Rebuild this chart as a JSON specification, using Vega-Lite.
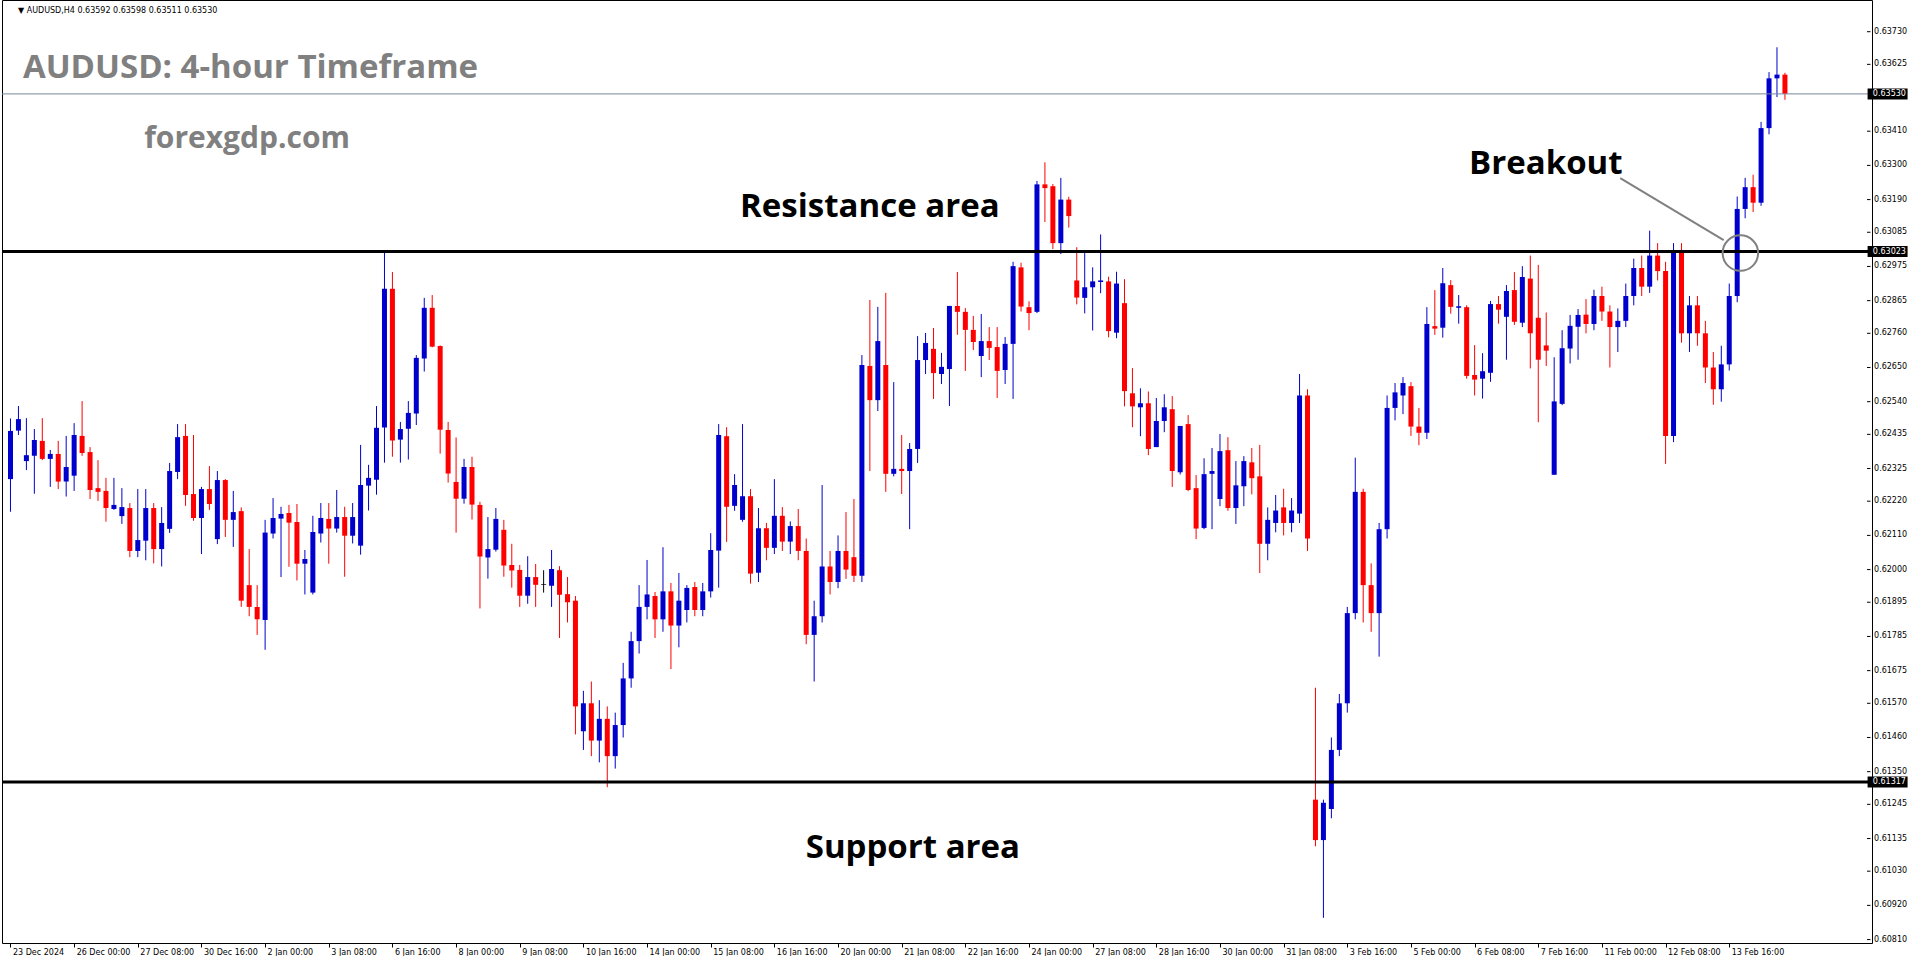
{
  "$schema": "https://vega.github.io/schema/vega-lite/v6.json",
  "width": 1870,
  "height": 943,
  "padding": 0,
  "autosize": {"type": "pad"},
  "background": "white",
  "view": {"stroke": "black", "strokeWidth": 1},
  "config": {"font": "DejaVu Sans", "axis": {"labelFont": "DejaVu Sans"}},
  "datasets": {
    "candles": [
      {"i":0,"o":0.62291,"h":0.62486,"l":0.62186,"c":0.62446},
      {"i":1,"o":0.62447,"h":0.62526,"l":0.62433,"c":0.62484},
      {"i":2,"o":0.62349,"h":0.62487,"l":0.62320,"c":0.62368},
      {"i":3,"o":0.62366,"h":0.62452,"l":0.62244,"c":0.62417},
      {"i":4,"o":0.62414,"h":0.62487,"l":0.62352,"c":0.62356},
      {"i":5,"o":0.62356,"h":0.62385,"l":0.62266,"c":0.62372},
      {"i":6,"o":0.62372,"h":0.62414,"l":0.62259,"c":0.62283},
      {"i":7,"o":0.62283,"h":0.62430,"l":0.62235,"c":0.62330},
      {"i":8,"o":0.62302,"h":0.62471,"l":0.62253,"c":0.62433},
      {"i":9,"o":0.62430,"h":0.62542,"l":0.62366,"c":0.62375},
      {"i":10,"o":0.62378,"h":0.62394,"l":0.62227,"c":0.62256},
      {"i":11,"o":0.62262,"h":0.62352,"l":0.62221,"c":0.62250},
      {"i":12,"o":0.62253,"h":0.62295,"l":0.62154,"c":0.62198},
      {"i":13,"o":0.62195,"h":0.62295,"l":0.62192,"c":0.62208},
      {"i":14,"o":0.62172,"h":0.62262,"l":0.62147,"c":0.62201},
      {"i":15,"o":0.62198,"h":0.62214,"l":0.62040,"c":0.62060},
      {"i":16,"o":0.62060,"h":0.62259,"l":0.62040,"c":0.62095},
      {"i":17,"o":0.62093,"h":0.62259,"l":0.62030,"c":0.62198},
      {"i":18,"o":0.62198,"h":0.62214,"l":0.62020,"c":0.62066},
      {"i":19,"o":0.62066,"h":0.62201,"l":0.62010,"c":0.62150},
      {"i":20,"o":0.62131,"h":0.62343,"l":0.62118,"c":0.62317},
      {"i":21,"o":0.62314,"h":0.62468,"l":0.62291,"c":0.62426},
      {"i":22,"o":0.62430,"h":0.62468,"l":0.62205,"c":0.62240},
      {"i":23,"o":0.62243,"h":0.62433,"l":0.62157,"c":0.62166},
      {"i":24,"o":0.62166,"h":0.62266,"l":0.62050,"c":0.62259},
      {"i":25,"o":0.62259,"h":0.62333,"l":0.62192,"c":0.62211},
      {"i":26,"o":0.62098,"h":0.62317,"l":0.62082,"c":0.62288},
      {"i":27,"o":0.62288,"h":0.62291,"l":0.62105,"c":0.62160},
      {"i":28,"o":0.62160,"h":0.62253,"l":0.62073,"c":0.62185},
      {"i":29,"o":0.62188,"h":0.62200,"l":0.61880,"c":0.61900},
      {"i":30,"o":0.61950,"h":0.62066,"l":0.61850,"c":0.61880},
      {"i":31,"o":0.61880,"h":0.61950,"l":0.61790,"c":0.61840},
      {"i":32,"o":0.61838,"h":0.62160,"l":0.61742,"c":0.62119},
      {"i":33,"o":0.62116,"h":0.62230,"l":0.62100,"c":0.62166},
      {"i":34,"o":0.62164,"h":0.62202,"l":0.61976,"c":0.62179},
      {"i":35,"o":0.62182,"h":0.62208,"l":0.62009,"c":0.62151},
      {"i":36,"o":0.62153,"h":0.62211,"l":0.61965,"c":0.62019},
      {"i":37,"o":0.62019,"h":0.62063,"l":0.61920,"c":0.62034},
      {"i":38,"o":0.61926,"h":0.62173,"l":0.61920,"c":0.62121},
      {"i":39,"o":0.62116,"h":0.62214,"l":0.62087,"c":0.62166},
      {"i":40,"o":0.62163,"h":0.62214,"l":0.62019,"c":0.62132},
      {"i":41,"o":0.62132,"h":0.62256,"l":0.62119,"c":0.62169},
      {"i":42,"o":0.62169,"h":0.62202,"l":0.61977,"c":0.62109},
      {"i":43,"o":0.62109,"h":0.62214,"l":0.62084,"c":0.62169},
      {"i":44,"o":0.62077,"h":0.62401,"l":0.62048,"c":0.62272},
      {"i":45,"o":0.62270,"h":0.62337,"l":0.62190,"c":0.62295},
      {"i":46,"o":0.62289,"h":0.62526,"l":0.62241,"c":0.62456},
      {"i":47,"o":0.62457,"h":0.63020,"l":0.62344,"c":0.62903},
      {"i":48,"o":0.62903,"h":0.62957,"l":0.62363,"c":0.62415},
      {"i":49,"o":0.62418,"h":0.62475,"l":0.62344,"c":0.62452},
      {"i":50,"o":0.62453,"h":0.62542,"l":0.62354,"c":0.62504},
      {"i":51,"o":0.62502,"h":0.62690,"l":0.62465,"c":0.62681},
      {"i":52,"o":0.62679,"h":0.62874,"l":0.62637,"c":0.62842},
      {"i":53,"o":0.62842,"h":0.62883,"l":0.62715,"c":0.62717},
      {"i":54,"o":0.62719,"h":0.62721,"l":0.62373,"c":0.62450},
      {"i":55,"o":0.62449,"h":0.62475,"l":0.62280,"c":0.62309},
      {"i":56,"o":0.62282,"h":0.62425,"l":0.62119,"c":0.62228},
      {"i":57,"o":0.62228,"h":0.62356,"l":0.62212,"c":0.62330},
      {"i":58,"o":0.62330,"h":0.62363,"l":0.62161,"c":0.62209},
      {"i":59,"o":0.62208,"h":0.62218,"l":0.61875,"c":0.62042},
      {"i":60,"o":0.62039,"h":0.62169,"l":0.61971,"c":0.62066},
      {"i":61,"o":0.62064,"h":0.62198,"l":0.62058,"c":0.62163},
      {"i":62,"o":0.62128,"h":0.62160,"l":0.61977,"c":0.62013},
      {"i":63,"o":0.62015,"h":0.62083,"l":0.61942,"c":0.61997},
      {"i":64,"o":0.61999,"h":0.62015,"l":0.61880,"c":0.61916},
      {"i":65,"o":0.61916,"h":0.62043,"l":0.61890,"c":0.61976},
      {"i":66,"o":0.61976,"h":0.62018,"l":0.61880,"c":0.61951},
      {"i":67,"o":0.61952,"h":0.61998,"l":0.61926,"c":0.61952},
      {"i":68,"o":0.61948,"h":0.62063,"l":0.61880,"c":0.62002},
      {"i":69,"o":0.61998,"h":0.62011,"l":0.61780,"c":0.61919},
      {"i":70,"o":0.61921,"h":0.61976,"l":0.61830,"c":0.61895},
      {"i":71,"o":0.61900,"h":0.61915,"l":0.61470,"c":0.61560},
      {"i":72,"o":0.61480,"h":0.61610,"l":0.61420,"c":0.61570},
      {"i":73,"o":0.61570,"h":0.61640,"l":0.61400,"c":0.61450},
      {"i":74,"o":0.61450,"h":0.61580,"l":0.61380,"c":0.61520},
      {"i":75,"o":0.61520,"h":0.61560,"l":0.61300,"c":0.61400},
      {"i":76,"o":0.61400,"h":0.61540,"l":0.61360,"c":0.61500},
      {"i":77,"o":0.61500,"h":0.61700,"l":0.61460,"c":0.61650},
      {"i":78,"o":0.61650,"h":0.61800,"l":0.61620,"c":0.61770},
      {"i":79,"o":0.61770,"h":0.61950,"l":0.61730,"c":0.61880},
      {"i":80,"o":0.61880,"h":0.62031,"l":0.61840,"c":0.61920},
      {"i":81,"o":0.61915,"h":0.61928,"l":0.61780,"c":0.61840},
      {"i":82,"o":0.61840,"h":0.62072,"l":0.61800,"c":0.61930},
      {"i":83,"o":0.61930,"h":0.61957,"l":0.61680,"c":0.61820},
      {"i":84,"o":0.61820,"h":0.61989,"l":0.61750,"c":0.61900},
      {"i":85,"o":0.61870,"h":0.61950,"l":0.61830,"c":0.61941},
      {"i":86,"o":0.61944,"h":0.61960,"l":0.61850,"c":0.61870},
      {"i":87,"o":0.61870,"h":0.61957,"l":0.61850,"c":0.61930},
      {"i":88,"o":0.61930,"h":0.62117,"l":0.61910,"c":0.62063},
      {"i":89,"o":0.62061,"h":0.62468,"l":0.61942,"c":0.62433},
      {"i":90,"o":0.62429,"h":0.62458,"l":0.62089,"c":0.62202},
      {"i":91,"o":0.62205,"h":0.62307,"l":0.62189,"c":0.62272},
      {"i":92,"o":0.62160,"h":0.62468,"l":0.62154,"c":0.62236},
      {"i":93,"o":0.62236,"h":0.62259,"l":0.61955,"c":0.61987},
      {"i":94,"o":0.61990,"h":0.62198,"l":0.61960,"c":0.62133},
      {"i":95,"o":0.62133,"h":0.62150,"l":0.62030,"c":0.62070},
      {"i":96,"o":0.62070,"h":0.62291,"l":0.62050,"c":0.62173},
      {"i":97,"o":0.62173,"h":0.62201,"l":0.62060,"c":0.62090},
      {"i":98,"o":0.62090,"h":0.62155,"l":0.62050,"c":0.62140},
      {"i":99,"o":0.62140,"h":0.62195,"l":0.62030,"c":0.62060},
      {"i":100,"o":0.62060,"h":0.62100,"l":0.61760,"c":0.61790},
      {"i":101,"o":0.61790,"h":0.61900,"l":0.61640,"c":0.61850},
      {"i":102,"o":0.61850,"h":0.62272,"l":0.61830,"c":0.62010},
      {"i":103,"o":0.62010,"h":0.62060,"l":0.61920,"c":0.61960},
      {"i":104,"o":0.61960,"h":0.62110,"l":0.61940,"c":0.62060},
      {"i":105,"o":0.62060,"h":0.62185,"l":0.61970,"c":0.62000},
      {"i":106,"o":0.62040,"h":0.62227,"l":0.61960,"c":0.61980},
      {"i":107,"o":0.61980,"h":0.62690,"l":0.61960,"c":0.62658},
      {"i":108,"o":0.62655,"h":0.62867,"l":0.62317,"c":0.62545},
      {"i":109,"o":0.62545,"h":0.62845,"l":0.62510,"c":0.62735},
      {"i":110,"o":0.62658,"h":0.62890,"l":0.62250,"c":0.62308},
      {"i":111,"o":0.62308,"h":0.62603,"l":0.62300,"c":0.62324},
      {"i":112,"o":0.62324,"h":0.62433,"l":0.62243,"c":0.62317},
      {"i":113,"o":0.62317,"h":0.62407,"l":0.62130,"c":0.62388},
      {"i":114,"o":0.62388,"h":0.62751,"l":0.62343,"c":0.62674},
      {"i":115,"o":0.62674,"h":0.62761,"l":0.62629,"c":0.62729},
      {"i":116,"o":0.62710,"h":0.62777,"l":0.62549,"c":0.62632},
      {"i":117,"o":0.62629,"h":0.62697,"l":0.62597,"c":0.62652},
      {"i":118,"o":0.62645,"h":0.62848,"l":0.62526,"c":0.62848},
      {"i":119,"o":0.62848,"h":0.62957,"l":0.62755,"c":0.62829},
      {"i":120,"o":0.62829,"h":0.62841,"l":0.62639,"c":0.62771},
      {"i":121,"o":0.62771,"h":0.62816,"l":0.62706,"c":0.62732},
      {"i":122,"o":0.62687,"h":0.62822,"l":0.62619,"c":0.62735},
      {"i":123,"o":0.62735,"h":0.62780,"l":0.62674,"c":0.62713},
      {"i":124,"o":0.62716,"h":0.62780,"l":0.62552,"c":0.62639},
      {"i":125,"o":0.62642,"h":0.62748,"l":0.62597,"c":0.62726},
      {"i":126,"o":0.62726,"h":0.62990,"l":0.62549,"c":0.62976},
      {"i":127,"o":0.62972,"h":0.62987,"l":0.62830,"c":0.62846},
      {"i":128,"o":0.62844,"h":0.62863,"l":0.62770,"c":0.62825},
      {"i":129,"o":0.62829,"h":0.63250,"l":0.62825,"c":0.63239},
      {"i":130,"o":0.63239,"h":0.63310,"l":0.63118,"c":0.63227},
      {"i":131,"o":0.63233,"h":0.63240,"l":0.63031,"c":0.63050},
      {"i":132,"o":0.63050,"h":0.63260,"l":0.63015,"c":0.63190},
      {"i":133,"o":0.63190,"h":0.63199,"l":0.63100,"c":0.63137},
      {"i":134,"o":0.62930,"h":0.63037,"l":0.62853,"c":0.62875},
      {"i":135,"o":0.62874,"h":0.63018,"l":0.62824,"c":0.62908},
      {"i":136,"o":0.62908,"h":0.62972,"l":0.62769,"c":0.62927},
      {"i":137,"o":0.62925,"h":0.63078,"l":0.62889,"c":0.62930},
      {"i":138,"o":0.62927,"h":0.62942,"l":0.62747,"c":0.62767},
      {"i":139,"o":0.62762,"h":0.62958,"l":0.62744,"c":0.62920},
      {"i":140,"o":0.62857,"h":0.62934,"l":0.62525,"c":0.62574},
      {"i":141,"o":0.62567,"h":0.62648,"l":0.62458,"c":0.62525},
      {"i":142,"o":0.62522,"h":0.62583,"l":0.62429,"c":0.62535},
      {"i":143,"o":0.62535,"h":0.62573,"l":0.62368,"c":0.62388},
      {"i":144,"o":0.62394,"h":0.62552,"l":0.62394,"c":0.62478},
      {"i":145,"o":0.62478,"h":0.62564,"l":0.62442,"c":0.62522},
      {"i":146,"o":0.62516,"h":0.62558,"l":0.62266,"c":0.62317},
      {"i":147,"o":0.62313,"h":0.62462,"l":0.62306,"c":0.62462},
      {"i":148,"o":0.62468,"h":0.62497,"l":0.62252,"c":0.62256},
      {"i":149,"o":0.62262,"h":0.62304,"l":0.62098,"c":0.62132},
      {"i":150,"o":0.62134,"h":0.62358,"l":0.62130,"c":0.62307},
      {"i":151,"o":0.62308,"h":0.62391,"l":0.62130,"c":0.62317},
      {"i":152,"o":0.62227,"h":0.62436,"l":0.62204,"c":0.62381},
      {"i":153,"o":0.62384,"h":0.62426,"l":0.62189,"c":0.62198},
      {"i":154,"o":0.62198,"h":0.62349,"l":0.62147,"c":0.62271},
      {"i":155,"o":0.62268,"h":0.62365,"l":0.62204,"c":0.62349},
      {"i":156,"o":0.62345,"h":0.62391,"l":0.62242,"c":0.62294},
      {"i":157,"o":0.62300,"h":0.62401,"l":0.61989,"c":0.62083},
      {"i":158,"o":0.62083,"h":0.62200,"l":0.62030,"c":0.62160},
      {"i":159,"o":0.62150,"h":0.62240,"l":0.62120,"c":0.62190},
      {"i":160,"o":0.62200,"h":0.62260,"l":0.62110,"c":0.62150},
      {"i":161,"o":0.62150,"h":0.62230,"l":0.62120,"c":0.62190},
      {"i":162,"o":0.62180,"h":0.62629,"l":0.62150,"c":0.62560},
      {"i":163,"o":0.62560,"h":0.62580,"l":0.62060,"c":0.62100},
      {"i":164,"o":0.61260,"h":0.61620,"l":0.61110,"c":0.61130},
      {"i":165,"o":0.61130,"h":0.61260,"l":0.60880,"c":0.61250},
      {"i":166,"o":0.61230,"h":0.61460,"l":0.61200,"c":0.61420},
      {"i":167,"o":0.61420,"h":0.61600,"l":0.61400,"c":0.61570},
      {"i":168,"o":0.61570,"h":0.61880,"l":0.61540,"c":0.61860},
      {"i":169,"o":0.61860,"h":0.62360,"l":0.61840,"c":0.62250},
      {"i":170,"o":0.62250,"h":0.62260,"l":0.61830,"c":0.61950},
      {"i":171,"o":0.61950,"h":0.62020,"l":0.61800,"c":0.61860},
      {"i":172,"o":0.61860,"h":0.62150,"l":0.61720,"c":0.62130},
      {"i":173,"o":0.62130,"h":0.62560,"l":0.62100,"c":0.62520},
      {"i":174,"o":0.62520,"h":0.62600,"l":0.62480,"c":0.62570},
      {"i":175,"o":0.62560,"h":0.62619,"l":0.62500,"c":0.62600},
      {"i":176,"o":0.62590,"h":0.62603,"l":0.62430,"c":0.62460},
      {"i":177,"o":0.62460,"h":0.62520,"l":0.62400,"c":0.62440},
      {"i":178,"o":0.62440,"h":0.62844,"l":0.62420,"c":0.62790},
      {"i":179,"o":0.62783,"h":0.62899,"l":0.62755,"c":0.62775},
      {"i":180,"o":0.62778,"h":0.62970,"l":0.62746,"c":0.62921},
      {"i":181,"o":0.62915,"h":0.62931,"l":0.62823,"c":0.62845},
      {"i":182,"o":0.62842,"h":0.62883,"l":0.62791,"c":0.62847},
      {"i":183,"o":0.62844,"h":0.62850,"l":0.62614,"c":0.62623},
      {"i":184,"o":0.62626,"h":0.62722,"l":0.62560,"c":0.62611},
      {"i":185,"o":0.62614,"h":0.62696,"l":0.62550,"c":0.62638},
      {"i":186,"o":0.62633,"h":0.62864,"l":0.62604,"c":0.62854},
      {"i":187,"o":0.62854,"h":0.62880,"l":0.62791,"c":0.62836},
      {"i":188,"o":0.62813,"h":0.62915,"l":0.62675,"c":0.62896},
      {"i":189,"o":0.62899,"h":0.62957,"l":0.62787,"c":0.62797},
      {"i":190,"o":0.62794,"h":0.62976,"l":0.62780,"c":0.62941},
      {"i":191,"o":0.62936,"h":0.63010,"l":0.62647,"c":0.62760},
      {"i":192,"o":0.62810,"h":0.62980,"l":0.62474,"c":0.62675},
      {"i":193,"o":0.62721,"h":0.62827,"l":0.62655,"c":0.62704},
      {"i":194,"o":0.62305,"h":0.62683,"l":0.62305,"c":0.62541},
      {"i":195,"o":0.62533,"h":0.62770,"l":0.62529,"c":0.62712},
      {"i":196,"o":0.62711,"h":0.62819,"l":0.62663,"c":0.62784},
      {"i":197,"o":0.62781,"h":0.62838,"l":0.62675,"c":0.62819},
      {"i":198,"o":0.62820,"h":0.62870,"l":0.62760,"c":0.62790},
      {"i":199,"o":0.62790,"h":0.62900,"l":0.62770,"c":0.62880},
      {"i":200,"o":0.62880,"h":0.62910,"l":0.62800,"c":0.62830},
      {"i":201,"o":0.62830,"h":0.62850,"l":0.62650,"c":0.62780},
      {"i":202,"o":0.62780,"h":0.62840,"l":0.62700,"c":0.62800},
      {"i":203,"o":0.62800,"h":0.62920,"l":0.62780,"c":0.62880},
      {"i":204,"o":0.62880,"h":0.63000,"l":0.62850,"c":0.62970},
      {"i":205,"o":0.62970,"h":0.63010,"l":0.62880,"c":0.62910},
      {"i":206,"o":0.62910,"h":0.63090,"l":0.62890,"c":0.63010},
      {"i":207,"o":0.63010,"h":0.63050,"l":0.62930,"c":0.62960},
      {"i":208,"o":0.62960,"h":0.62990,"l":0.62340,"c":0.62430},
      {"i":209,"o":0.62430,"h":0.63050,"l":0.62410,"c":0.63020},
      {"i":210,"o":0.63020,"h":0.63050,"l":0.62730,"c":0.62760},
      {"i":211,"o":0.62760,"h":0.62880,"l":0.62700,"c":0.62850},
      {"i":212,"o":0.62850,"h":0.62880,"l":0.62720,"c":0.62760},
      {"i":213,"o":0.62760,"h":0.62800,"l":0.62600,"c":0.62650},
      {"i":214,"o":0.62650,"h":0.62700,"l":0.62530,"c":0.62580},
      {"i":215,"o":0.62580,"h":0.62720,"l":0.62540,"c":0.62660},
      {"i":216,"o":0.62660,"h":0.62920,"l":0.62640,"c":0.62880},
      {"i":217,"o":0.62880,"h":0.63200,"l":0.62860,"c":0.63160},
      {"i":218,"o":0.63160,"h":0.63260,"l":0.63130,"c":0.63230},
      {"i":219,"o":0.63230,"h":0.63270,"l":0.63150,"c":0.63180},
      {"i":220,"o":0.63180,"h":0.63440,"l":0.63170,"c":0.63420},
      {"i":221,"o":0.63420,"h":0.63600,"l":0.63400,"c":0.63580},
      {"i":222,"o":0.63580,"h":0.63680,"l":0.63520,"c":0.63592},
      {"i":223,"o":0.63592,"h":0.63598,"l":0.63511,"c":0.63530}
    ],
    "levels": [
      {"p": 0.63023, "kind": "line"},
      {"p": 0.61317, "kind": "line"},
      {"p": 0.63530, "kind": "bid"}
    ],
    "prices": [
      {"p": 0.63730}, {"p": 0.63625}, {"p": 0.63410}, {"p": 0.63300}, {"p": 0.63190}, {"p": 0.63085},
      {"p": 0.62975}, {"p": 0.62865}, {"p": 0.62760}, {"p": 0.62650}, {"p": 0.62540}, {"p": 0.62435},
      {"p": 0.62325}, {"p": 0.62220}, {"p": 0.62110}, {"p": 0.62000}, {"p": 0.61895}, {"p": 0.61785},
      {"p": 0.61675}, {"p": 0.61570}, {"p": 0.61460}, {"p": 0.61350}, {"p": 0.61245}, {"p": 0.61135},
      {"p": 0.61030}, {"p": 0.60920}, {"p": 0.60810}
    ],
    "notes": [
      {"x": 0.94, "y": 0.63790, "text": "▼  AUDUSD,H4  0.63592 0.63598 0.63511 0.63530", "kind": "header"},
      {"x": 1.56, "y": 0.63581, "text": "AUDUSD: 4-hour Timeframe", "kind": "title"},
      {"x": 16.81, "y": 0.63356, "text": "forexgdp.com", "kind": "site"},
      {"x": 91.69, "y": 0.63134, "text": "Resistance area", "kind": "label"},
      {"x": 99.94, "y": 0.61073, "text": "Support area", "kind": "label"},
      {"x": 183.31, "y": 0.63272, "text": "Breakout", "kind": "label"}
    ],
    "arrow": [{"x1": 202.3, "p1": 0.63259, "x2": 215.3, "p2": 0.63060}],
    "circle": [{"x": 217.4, "p": 0.63018}]
  },
  "layer": [
    {
      "data": {"name": "candles"},
      "mark": {"type": "rule", "strokeWidth": 1},
      "encoding": {
        "x": {"field": "i", "type": "quantitative",
              "scale": {"domain": [-0.4375, 233.3125], "nice": false, "zero": false},
              "axis": {"orient": "bottom", "title": null, "grid": false, "domain": false,
                       "values": [0,8,16,24,32,40,48,56,64,72,80,88,96,104,112,120,128,136,144,152,160,168,176,184,192,200,208,216],
                       "labelExpr": "['23 Dec 2024','26 Dec 00:00','27 Dec 08:00','30 Dec 16:00','2 Jan 00:00','3 Jan 08:00','6 Jan 16:00','8 Jan 00:00','9 Jan 08:00','10 Jan 16:00','14 Jan 00:00','15 Jan 08:00','16 Jan 16:00','20 Jan 00:00','21 Jan 08:00','22 Jan 16:00','24 Jan 00:00','27 Jan 08:00','28 Jan 16:00','30 Jan 00:00','31 Jan 08:00','3 Feb 16:00','5 Feb 00:00','6 Feb 08:00','7 Feb 16:00','11 Feb 00:00','12 Feb 08:00','13 Feb 16:00'][round(datum.value/8)]",
                       "labelAlign": "left", "labelBaseline": "top", "labelOffset": 2, "labelPadding": 1,
                       "labelFontSize": 8, "labelColor": "#000000", "tickSize": 4, "tickColor": "#000000", "labelFlush": false, "labelOverlap": false}},
        "y": {"field": "l", "type": "quantitative",
              "scale": {"domain": [0.60799, 0.63832], "nice": false, "zero": false},
              "axis": null},
        "y2": {"field": "h"},
        "color": {"condition": [{"test": "datum.c == datum.o", "value": "#000000"}, {"test": "datum.c > datum.o", "value": "#0000CD"}], "value": "#FF0000"}
      }
    },
    {
      "data": {"name": "candles"},
      "transform": [{"filter": "datum.c != datum.o"}],
      "mark": {"type": "bar", "width": 5},
      "encoding": {
        "x": {"field": "i", "type": "quantitative"},
        "y": {"field": "o", "type": "quantitative", "axis": null},
        "y2": {"field": "c"},
        "color": {"condition": {"test": "datum.c > datum.o", "value": "#0000CD"}, "value": "#FF0000"}
      }
    },
    {
      "data": {"name": "candles"},
      "transform": [{"filter": "datum.c == datum.o"}],
      "mark": {"type": "tick", "orient": "horizontal", "size": 5, "thickness": 1, "color": "#000000"},
      "encoding": {
        "x": {"field": "i", "type": "quantitative"},
        "y": {"field": "o", "type": "quantitative", "axis": null}
      }
    },
    {
      "data": {"name": "prices"},
      "mark": {"type": "rule", "color": "#000000", "strokeWidth": 1},
      "encoding": {
        "x": {"datum": 233.3125, "type": "quantitative"},
        "x2": {"datum": 233.75},
        "y": {"field": "p", "type": "quantitative", "axis": null}
      }
    },
    {
      "data": {"name": "prices"},
      "mark": {"type": "text", "align": "left", "baseline": "middle", "color": "#000000", "font": "DejaVu Sans", "fontSize": 8},
      "encoding": {
        "x": {"datum": 234.2, "type": "quantitative"},
        "y": {"field": "p", "type": "quantitative", "axis": null},
        "text": {"field": "p", "format": ".5f"}
      }
    },
    {
      "data": {"name": "levels"},
      "transform": [{"filter": "datum.kind == 'bid'"}],
      "mark": {"type": "rule", "color": "#778899", "strokeWidth": 1},
      "encoding": {"y": {"field": "p", "type": "quantitative", "axis": null}}
    },
    {
      "data": {"name": "levels"},
      "transform": [{"filter": "datum.kind == 'line'"}],
      "mark": {"type": "rule", "color": "#000000", "strokeWidth": 3},
      "encoding": {"y": {"field": "p", "type": "quantitative", "axis": null}}
    },
    {
      "data": {"name": "levels"},
      "mark": {"type": "tick", "orient": "vertical", "size": 11, "thickness": 40, "color": "#000000", "opacity": 1},
      "encoding": {
        "x": {"datum": 235.9, "type": "quantitative"},
        "y": {"field": "p", "type": "quantitative", "axis": null}
      }
    },
    {
      "data": {"name": "levels"},
      "mark": {"type": "text", "align": "left", "baseline": "middle", "color": "#FFFFFF", "font": "DejaVu Sans", "fontSize": 8},
      "encoding": {
        "x": {"datum": 234.05, "type": "quantitative"},
        "y": {"field": "p", "type": "quantitative", "axis": null},
        "text": {"field": "p", "format": ".5f"}
      }
    },
    {
      "data": {"name": "arrow"},
      "mark": {"type": "rule", "color": "#808080", "strokeWidth": 2},
      "encoding": {
        "x": {"field": "x1", "type": "quantitative"},
        "x2": {"field": "x2"},
        "y": {"field": "p1", "type": "quantitative", "axis": null},
        "y2": {"field": "p2"}
      }
    },
    {
      "data": {"name": "circle"},
      "mark": {"type": "point", "shape": "circle", "filled": false, "size": 1257, "stroke": "#808080", "strokeWidth": 2, "opacity": 1},
      "encoding": {
        "x": {"field": "x", "type": "quantitative"},
        "y": {"field": "p", "type": "quantitative", "axis": null}
      }
    },
    {
      "data": {"name": "notes"},
      "transform": [{"filter": "datum.kind == 'header'"}],
      "mark": {"type": "text", "align": "left", "baseline": "alphabetic", "font": "DejaVu Sans", "fontSize": 8, "color": "#000000"},
      "encoding": {
        "x": {"field": "x", "type": "quantitative"},
        "y": {"field": "y", "type": "quantitative", "axis": null},
        "text": {"field": "text"}
      }
    },
    {
      "data": {"name": "notes"},
      "transform": [{"filter": "datum.kind == 'title'"}],
      "mark": {"type": "text", "align": "left", "baseline": "alphabetic", "font": "Open Sans", "fontWeight": "bold", "fontSize": 33, "color": "#808080"},
      "encoding": {
        "x": {"field": "x", "type": "quantitative"},
        "y": {"field": "y", "type": "quantitative", "axis": null},
        "text": {"field": "text"}
      }
    },
    {
      "data": {"name": "notes"},
      "transform": [{"filter": "datum.kind == 'site'"}],
      "mark": {"type": "text", "align": "left", "baseline": "alphabetic", "font": "Open Sans", "fontWeight": "bold", "fontSize": 30, "color": "#808080"},
      "encoding": {
        "x": {"field": "x", "type": "quantitative"},
        "y": {"field": "y", "type": "quantitative", "axis": null},
        "text": {"field": "text"}
      }
    },
    {
      "data": {"name": "notes"},
      "transform": [{"filter": "datum.kind == 'label'"}],
      "mark": {"type": "text", "align": "left", "baseline": "alphabetic", "font": "Open Sans", "fontWeight": "bold", "fontSize": 33, "color": "#000000"},
      "encoding": {
        "x": {"field": "x", "type": "quantitative"},
        "y": {"field": "y", "type": "quantitative", "axis": null},
        "text": {"field": "text"}
      }
    }
  ]
}
